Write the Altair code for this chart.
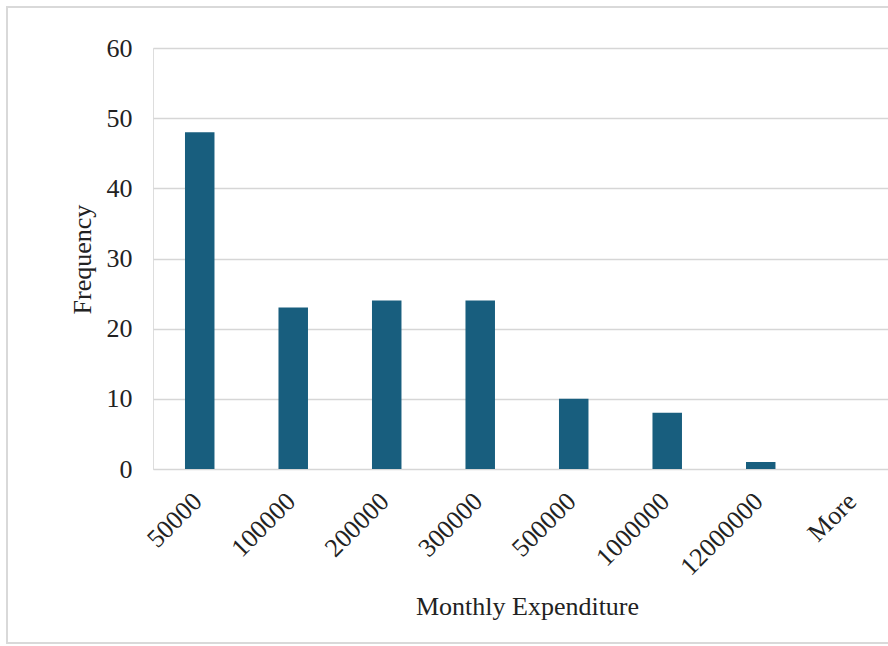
import altair as alt
import pandas as pd

categories = ["50000", "100000", "200000", "300000", "500000", "1000000", "12000000", "More"]
frequency = [48, 23, 24, 24, 10, 8, 1, 0]
y_ticks = [0, 10, 20, 30, 40, 50, 60]

df = pd.DataFrame({"bin": categories, "freq": frequency})

FONT = "Liberation Serif"
TXT = "#222222"
GRID = "#d6d6d6"

bars = alt.Chart(df).mark_bar(color="#185e7e").encode(
    x=alt.X(
        "bin:N",
        sort=categories,
        scale=alt.Scale(paddingInner=0.6845, paddingOuter=0.2728, align=0.627),
        axis=alt.Axis(
            title="Monthly Expenditure",
            labelAngle=-45,
            labelAlign="right",
            labelBaseline="middle",
            labelPadding=28,
            labelOffset=-2,
            labelFont=FONT,
            labelFontSize=26,
            labelColor=TXT,
            titleFont=FONT,
            titleFontSize=26,
            titleFontWeight="normal",
            titleColor=TXT,
            titleX=374,
            titleY=145,
            titleAlign="center",
            titleBaseline="alphabetic",
            ticks=False,
            tickSize=0,
            domain=False,
            grid=False,
        ),
    ),
    y=alt.Y(
        "freq:Q",
        scale=alt.Scale(domain=[0, 60], nice=False),
        axis=alt.Axis(
            title="Frequency",
            values=y_ticks,
            labelFont=FONT,
            labelFontSize=26,
            labelColor=TXT,
            labelPadding=21,
            labelBaseline="middle",
            titleFont=FONT,
            titleFontSize=26,
            titleFontWeight="normal",
            titleColor=TXT,
            titleAngle=270,
            titleX=-63,
            titleY=211,
            titleAlign="center",
            titleBaseline="alphabetic",
            ticks=False,
            tickSize=0,
            domain=False,
            grid=True,
            gridColor=GRID,
            gridWidth=1.5,
        ),
    ),
)

frame = alt.Chart(alt.Data(values=[{"f": 1}])).mark_rect(
    fill="white", fillOpacity=0, stroke="#d9d9d9", strokeWidth=2
).encode(
    x=alt.value(-146),
    x2=alt.value(760),
    y=alt.value(-41),
    y2=alt.value(595),
)

chart = alt.layer(frame, bars).properties(
    width=735,
    height=421,
    autosize=alt.AutoSizeParams(type="none"),
    padding={"left": 153, "top": 48, "right": 0, "bottom": 177},
).configure_view(stroke=None).configure(background="white")

chart.save("out.html", embed_options={"renderer": "svg", "actions": False})
